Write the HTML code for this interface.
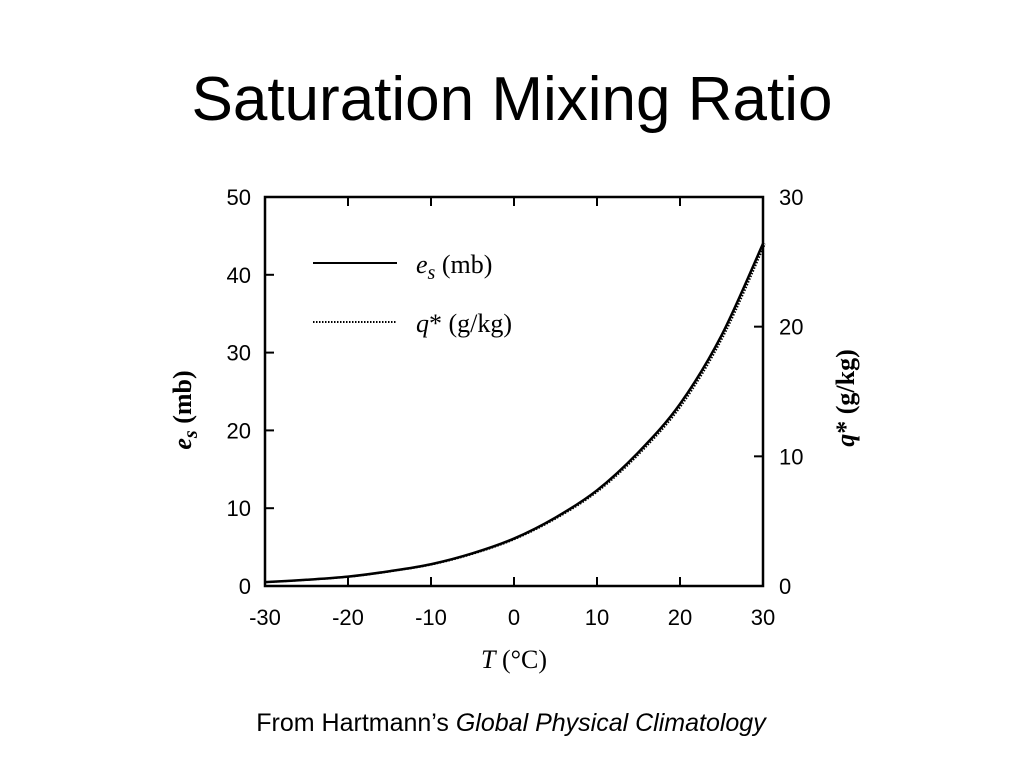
<!DOCTYPE html>
<html><head><meta charset="utf-8"><style>
body{margin:0;background:#fff;width:1024px;height:768px;overflow:hidden;font-family:"Liberation Sans",sans-serif}
</style></head><body>
<svg width="1024" height="768">
<text x="512" y="120" text-anchor="middle" font-size="62" font-family="Liberation Sans, sans-serif">Saturation Mixing Ratio</text>
<g id="axes"></g>
<text x="511" y="731" text-anchor="middle" font-size="25">From Hartmann’s <tspan font-style="italic">Global Physical Climatology</tspan></text>
</svg>
<script>
const temps=[-30,-25,-20,-15,-10,-5,0,5,10,15,20,25,30];
const esVals=[0.5,0.8,1.2,1.9,2.8,4.2,6.1,8.8,12.3,17.2,23.4,32.2,44.0];
const qVals=[0.3,0.48,0.72,1.14,1.68,2.52,3.66,5.28,7.38,10.3,14.0,19.3,26.4];
const xTicks=[-30,-20,-10,0,10,20,30];
const yLeftTicks=[0,10,20,30,40,50];
const yRightTicks=[0,10,20,30];

const L=265,R=763,T=197,B=586;
const x=v=>L+(v+30)/60*(R-L);
const yl=v=>B-v/50*(B-T);
const yr=v=>B-v/30*(B-T);
const g=document.getElementById('axes');
const NS='http://www.w3.org/2000/svg';
function mk(tag,attrs,parent){const e=document.createElementNS(NS,tag);for(const k in attrs)e.setAttribute(k,attrs[k]);(parent||g).appendChild(e);return e;}
function txt(s,attrs){const e=mk('text',attrs);e.textContent=s;return e;}

const frame=mk('rect',{x:L,y:T,width:R-L,height:B-T,fill:'none',stroke:'#000','stroke-width':2.5});



xTicks.forEach(t=>{
  const a=mk('line',{x1:x(t),x2:x(t),y1:B,y2:B-9,stroke:'#000','stroke-width':2});
  
  
  const b=mk('line',{x1:x(t),x2:x(t),y1:T,y2:T+9,stroke:'#000','stroke-width':2});
  
  
  const l=txt(String(t),{x:x(t),y:625,'text-anchor':'middle','font-size':22});
  
  
});
yLeftTicks.forEach(t=>{
  const a=mk('line',{x1:L,x2:L+9,y1:yl(t),y2:yl(t),stroke:'#000','stroke-width':2});
  
  
  const l=txt(String(t),{x:251,y:yl(t)+8,'text-anchor':'end','font-size':22});
  
  
});
yRightTicks.forEach(t=>{
  const a=mk('line',{x1:R,x2:R-9,y1:yr(t),y2:yr(t),stroke:'#000','stroke-width':2});
  
  
  const l=txt(String(t),{x:779,y:yr(t)+8,'text-anchor':'start','font-size':22});
  
  
});

function path(xs,ys,yf){
  const p=xs.map((v,i)=>[x(v),yf(ys[i])]);
  let d='M'+p[0][0]+','+p[0][1];
  for(let i=0;i<p.length-1;i++){
    const p0=p[Math.max(i-1,0)],p1=p[i],p2=p[i+1],p3=p[Math.min(i+2,p.length-1)];
    d+=` C${p1[0]+(p2[0]-p0[0])/6},${p1[1]+(p2[1]-p0[1])/6} ${p2[0]-(p3[0]-p1[0])/6},${p2[1]-(p3[1]-p1[1])/6} ${p2[0]},${p2[1]}`;
  }
  return d;
}
const es=mk('path',{d:path(temps,esVals,yl),fill:'none',stroke:'#000','stroke-width':2.5});


const q=mk('path',{d:path(temps,qVals,yr),fill:'none',stroke:'#000','stroke-width':2,'stroke-dasharray':'1.5 1.5',transform:'translate(2,0)'});



const le1=mk('line',{x1:313,x2:397,y1:263,y2:263,stroke:'#000','stroke-width':2});


const lt1=txt('',{x:416,y:273,'font-size':26,'font-family':'Liberation Serif, serif'});
lt1.innerHTML='<tspan font-style="italic">e</tspan><tspan font-style="italic" font-size="20" dy="6">s</tspan><tspan dy="-6"> (mb)</tspan>';


const le2=mk('line',{x1:313,x2:397,y1:322,y2:322,stroke:'#000','stroke-width':2,'stroke-dasharray':'1.5 1.5'});


const lt2=txt('',{x:416,y:332,'font-size':26,'font-family':'Liberation Serif, serif'});
lt2.innerHTML='<tspan font-style="italic">q</tspan>* (g/kg)';



const xt=txt('',{x:514,y:668,'text-anchor':'middle','font-size':26,'font-family':'Liberation Serif, serif'});
xt.innerHTML='<tspan font-style="italic">T</tspan> (°C)';


const yt=txt('',{x:0,y:0,'text-anchor':'middle','font-size':26,'font-weight':'bold','font-family':'Liberation Serif, serif',transform:'translate(191,410) rotate(-90)'});
yt.innerHTML='<tspan font-style="italic">e</tspan><tspan font-style="italic" font-size="20" dy="6">s</tspan><tspan dy="-6"> (mb)</tspan>';


const yt2=txt('',{x:0,y:0,'text-anchor':'middle','font-size':26,'font-weight':'bold','font-family':'Liberation Serif, serif',transform:'translate(854,398) rotate(-90)'});
yt2.innerHTML='<tspan font-style="italic">q</tspan>* (g/kg)';


</script>
</body></html>
